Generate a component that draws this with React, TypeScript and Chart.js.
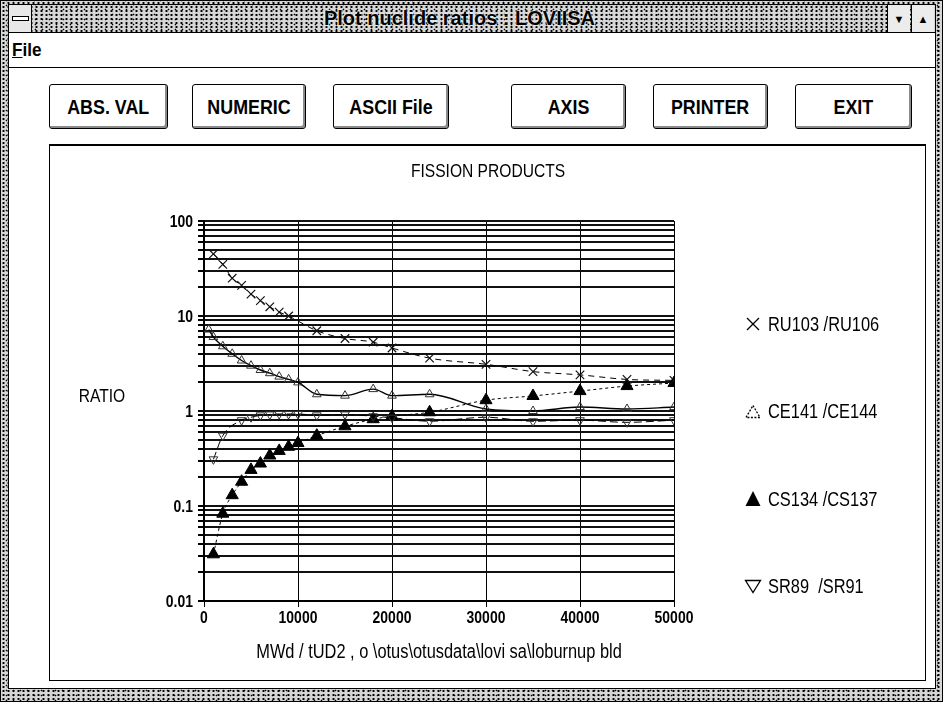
import React, { useEffect, useRef } from "react";
import { Chart, registerables } from "chart.js";

Chart.register(...registerables);

// ---------- data ----------
const RU_X = [1000, 2000, 3000, 4000, 5000, 6000, 7000, 8000, 9000, 12000, 15000, 18000, 20000, 24000, 30000, 35000, 40000, 45000, 50000];
const RU_Y = [45, 35, 25, 21, 17, 14.5, 12.5, 11, 10, 7.0, 5.8, 5.3, 4.6, 3.6, 3.1, 2.6, 2.4, 2.15, 2.1];

const CE_X = [500, 1000, 2000, 3000, 4000, 5000, 6000, 7000, 8000, 9000, 10000, 12000, 15000, 18000, 20000, 24000, 30000, 35000, 40000, 45000, 50000];
const CE_Y = [7.2, 6.0, 4.8, 4.0, 3.4, 3.0, 2.7, 2.5, 2.3, 2.15, 2.0, 1.5, 1.45, 1.7, 1.45, 1.5, 1.05, 1.0, 1.1, 1.05, 1.1];

const CS_X = [1000, 2000, 3000, 4000, 5000, 6000, 7000, 8000, 9000, 10000, 12000, 15000, 18000, 20000, 24000, 30000, 35000, 40000, 45000, 50000];
const CS_Y = [0.031, 0.083, 0.13, 0.18, 0.24, 0.28, 0.34, 0.38, 0.42, 0.46, 0.55, 0.69, 0.82, 0.88, 0.97, 1.3, 1.44, 1.62, 1.83, 1.97];

const SR_X = [1000, 2000, 4000, 5000, 6000, 7000, 8000, 9000, 10000, 12000, 15000, 18000, 20000, 24000, 30000, 35000, 40000, 45000, 50000];
const SR_Y = [0.31, 0.55, 0.8, 0.86, 0.9, 0.92, 0.93, 0.93, 0.93, 0.9, 0.92, 0.88, 0.85, 0.78, 0.86, 0.78, 0.8, 0.76, 0.8];

const SERIES_LABELS = ["RU103 /RU106", "CE141 /CE144", "CS134 /CS137", "SR89  /SR91"];

const X_TICKS = [0, 10000, 20000, 30000, 40000, 50000];
const X_TICK_LABELS = ["0", "10000", "20000", "30000", "40000", "50000"];
const Y_DECADES = [0.01, 0.1, 1, 10, 100];
const Y_DECADE_LABELS = ["0.01", "0.1", "1", "10", "100"];

const TITLE = "FISSION PRODUCTS";
const Y_TITLE = "RATIO";
const X_TITLE = "MWd / tUD2 , o \\otus\\otusdata\\lovi sa\\loburnup bld";

const WINDOW_TITLE = "Plot nuclide ratios : LOVIISA";
const MENU_ITEMS = ["File"];
const BUTTONS = ["ABS. VAL", "NUMERIC", "ASCII File", "AXIS", "PRINTER", "EXIT"];

// ---------- styles ----------
const SANS = "'Liberation Sans', Arial, sans-serif";
const NARROW_X = 0.82;
const DITHER =
  "radial-gradient(circle, #000 0.9px, transparent 1.3px) 0 0 / 5px 4px, radial-gradient(circle, #000 0.7px, transparent 1.1px) 2px 2px / 7px 5px, #d6d6d6";

const pts = (xs: number[], ys: number[]) => xs.map((x, i) => ({ x, y: ys[i] }));

// grid values for the log axis: 1..9 of every decade, plus the top decade
const yGridValues = (() => {
  const out: number[] = [];
  for (let d = 0; d < Y_DECADES.length - 1; d++) {
    for (let m = 1; m <= 9; m++) out.push(Number((Y_DECADES[d] * m).toPrecision(3)));
  }
  out.push(Y_DECADES[Y_DECADES.length - 1]);
  return out;
})();

function narrowText(
  ctx: CanvasRenderingContext2D,
  text: string,
  x: number,
  y: number,
  size: number,
  align: CanvasTextAlign,
  weight = "normal"
) {
  ctx.save();
  ctx.translate(x, y);
  ctx.scale(NARROW_X, 1);
  ctx.font = `${weight} ${size}px ${SANS}`;
  ctx.textAlign = align;
  ctx.textBaseline = "middle";
  ctx.fillStyle = "#000";
  ctx.fillText(text, 0, 0);
  ctx.restore();
}

function drawMarker(ctx: CanvasRenderingContext2D, kind: number, x: number, y: number) {
  ctx.save();
  ctx.strokeStyle = "#000";
  ctx.fillStyle = "#000";
  ctx.lineWidth = 1.3;
  ctx.beginPath();
  if (kind === 0) {
    const r = 6;
    ctx.moveTo(x - r, y - r);
    ctx.lineTo(x + r, y + r);
    ctx.moveTo(x + r, y - r);
    ctx.lineTo(x - r, y + r);
    ctx.stroke();
  } else if (kind === 1) {
    ctx.moveTo(x, y - 6);
    ctx.lineTo(x + 7, y + 6);
    ctx.lineTo(x - 7, y + 6);
    ctx.closePath();
    ctx.setLineDash([2, 1.5]);
    ctx.stroke();
  } else if (kind === 2) {
    ctx.moveTo(x, y - 8);
    ctx.lineTo(x + 7.5, y + 7);
    ctx.lineTo(x - 7.5, y + 7);
    ctx.closePath();
    ctx.fill();
  } else {
    ctx.moveTo(x - 7.5, y - 6);
    ctx.lineTo(x + 7.5, y - 6);
    ctx.lineTo(x, y + 6);
    ctx.closePath();
    ctx.stroke();
  }
  ctx.restore();
}

const decorPlugin = {
  id: "decor",
  beforeDraw(chart: any) {
    const ctx = chart.ctx as CanvasRenderingContext2D;
    ctx.save();
    ctx.fillStyle = "#fff";
    ctx.fillRect(0, 0, chart.width, chart.height);
    ctx.restore();
  },
  afterDraw(chart: any) {
    const ctx = chart.ctx as CanvasRenderingContext2D;
    const area = chart.chartArea;
    const xs = chart.scales.x;
    const ys = chart.scales.y;

    // tick labels
    X_TICKS.forEach((v, i) => {
      narrowText(ctx, X_TICK_LABELS[i], xs.getPixelForValue(v), area.bottom + 17, 17, "center", "bold");
    });
    Y_DECADES.forEach((v, i) => {
      narrowText(ctx, Y_DECADE_LABELS[i], area.left - 11, ys.getPixelForValue(v) + 1, 17, "right", "bold");
    });

    // titles
    narrowText(ctx, TITLE, 438, 26, 19, "center");
    narrowText(ctx, Y_TITLE, 52, 251, 19, "center");
    narrowText(ctx, X_TITLE, (area.left + area.right) / 2, 506, 20, "center");

    // legend
    SERIES_LABELS.forEach((label, i) => {
      const y = 178 + i * 87.5;
      drawMarker(ctx, i, 703, y);
      narrowText(ctx, label, 718, y + 1, 20, "left");
    });
  },
};

export default function App() {
  const canvasRef = useRef<HTMLCanvasElement>(null);

  useEffect(() => {
    const canvas = canvasRef.current;
    if (!canvas) return;
    const chart = new Chart(canvas, {
      type: "line",
      data: {
        datasets: [
          {
            label: SERIES_LABELS[0],
            data: pts(RU_X, RU_Y),
            borderColor: "#000",
            borderWidth: 1,
            borderDash: [6, 5],
            tension: 0.4,
            cubicInterpolationMode: "monotone",
            pointStyle: "crossRot",
            pointRadius: 6,
            pointBorderWidth: 1.2,
            pointBorderColor: "#111",
            pointBackgroundColor: "#111",
          },
          {
            label: SERIES_LABELS[1],
            data: pts(CE_X, CE_Y),
            borderColor: "#000",
            borderWidth: 1.4,
            tension: 0.4,
            cubicInterpolationMode: "monotone",
            pointStyle: "triangle",
            pointRadius: 5,
            pointBorderWidth: 1,
            pointBorderColor: "#333",
            pointBackgroundColor: "rgba(255,255,255,0)",
          },
          {
            label: SERIES_LABELS[3],
            data: pts(SR_X, SR_Y),
            borderColor: "#000",
            borderWidth: 1,
            borderDash: [8, 4],
            tension: 0.4,
            cubicInterpolationMode: "monotone",
            pointStyle: "triangle",
            pointRotation: 180,
            pointRadius: 5,
            pointBorderWidth: 1,
            pointBorderColor: "#333",
            pointBackgroundColor: "rgba(255,255,255,0)",
          },
          {
            label: SERIES_LABELS[2],
            data: pts(CS_X, CS_Y),
            borderColor: "#000",
            borderWidth: 1,
            borderDash: [3, 3],
            tension: 0.4,
            cubicInterpolationMode: "monotone",
            pointStyle: "triangle",
            pointRadius: 7,
            pointBorderWidth: 1,
            pointBorderColor: "#000",
            pointBackgroundColor: "#000",
          },
        ],
      },
      options: {
        responsive: false,
        animation: false,
        devicePixelRatio: 1,
        layout: { padding: { top: 75, right: 251, left: 0, bottom: 0 } },
        plugins: {
          legend: { display: false },
          title: { display: false },
          tooltip: { enabled: false },
        },
        scales: {
          x: {
            type: "linear",
            min: X_TICKS[0],
            max: X_TICKS[X_TICKS.length - 1],
            afterFit: (scale: any) => {
              scale.height = 78;
            },
            afterBuildTicks: (scale: any) => {
              scale.ticks = X_TICKS.map((value) => ({ value }));
            },
            ticks: { display: false },
            grid: {
              color: "#000",
              lineWidth: 1,
              tickLength: 6,
              tickColor: "#000",
            },
            border: { display: true, color: "#000", width: 2 },
          },
          y: {
            type: "logarithmic",
            min: Y_DECADES[0],
            max: Y_DECADES[Y_DECADES.length - 1],
            afterFit: (scale: any) => {
              scale.width = 154;
            },
            afterBuildTicks: (scale: any) => {
              scale.ticks = yGridValues.map((value) => ({ value }));
            },
            ticks: { display: false, autoSkip: false },
            grid: {
              color: "#111",
              lineWidth: 2,
              tickLength: 6,
              tickColor: "#000",
            },
            border: { display: true, color: "#000", width: 2 },
          },
        },
      },
      plugins: [decorPlugin],
    } as any);
    return () => chart.destroy();
  }, []);

  const btnPos = [
    [48, 167],
    [191, 305],
    [332, 448],
    [510, 625],
    [652, 767],
    [794, 911],
  ];

  const narrowSpan = (text: string) => (
    <span style={{ display: "inline-block", transform: `scaleX(${NARROW_X + 0.03})`, whiteSpace: "pre" }}>{text}</span>
  );

  return (
    <div
      style={{
        position: "absolute",
        left: 0,
        top: 0,
        width: 943,
        height: 702,
        boxSizing: "border-box",
        border: "1px solid #000",
        background: DITHER,
        overflow: "hidden",
        fontFamily: SANS,
      }}
    >
      {/* client area */}
      <div
        style={{
          position: "absolute",
          left: 7,
          top: 3,
          width: 928,
          height: 685,
          boxSizing: "border-box",
          border: "1px solid #000",
          background: "#fff",
        }}
      />
      {/* title bar */}
      <div
        style={{
          position: "absolute",
          left: 7,
          top: 3,
          width: 928,
          height: 29,
          boxSizing: "border-box",
          border: "1px solid #000",
          background: DITHER,
        }}
      />
      {/* control box */}
      <div
        style={{
          position: "absolute",
          left: 8,
          top: 4,
          width: 22,
          height: 27,
          background: "#e8e8e8",
          borderRight: "1px solid #000",
        }}
      >
        <div
          style={{
            position: "absolute",
            left: 3,
            top: 11,
            width: 15,
            height: 3,
            border: "1px solid #000",
            background: "#fff",
          }}
        />
      </div>
      {/* min / max boxes */}
      {["\u25BC", "\u25B2"].map((g, i) => (
        <div
          key={g}
          style={{
            position: "absolute",
            left: 886 + i * 24,
            top: 4,
            width: 23,
            height: 27,
            boxSizing: "border-box",
            borderLeft: "1px solid #000",
            background: "#ececec",
            display: "flex",
            alignItems: "center",
            justifyContent: "center",
            fontSize: 11,
            color: "#000",
          }}
        >
          {g}
        </div>
      ))}
      {/* window title */}
      <div
        style={{
          position: "absolute",
          left: 31,
          top: 4,
          width: 855,
          height: 27,
          display: "flex",
          alignItems: "center",
          justifyContent: "center",
          fontWeight: "bold",
          fontSize: 20,
          color: "#000",
          textShadow: "0 0 2px #fff, 0 0 2px #fff",
        }}
      >
        <span style={{ whiteSpace: "pre" }}>{WINDOW_TITLE}</span>
      </div>
      {/* menu bar */}
      <div
        style={{
          position: "absolute",
          left: 8,
          top: 32,
          width: 926,
          height: 34,
          borderBottom: "1px solid #000",
          display: "flex",
          alignItems: "center",
          fontSize: 19,
          fontWeight: "bold",
          color: "#000",
        }}
      >
        {MENU_ITEMS.map((m) => (
          <span key={m} style={{ marginLeft: 3, display: "inline-block", transform: "scaleX(0.9)", transformOrigin: "left center" }}>
            <span style={{ textDecoration: "underline" }}>{m[0]}</span>
            {m.slice(1)}
          </span>
        ))}
      </div>
      {/* buttons */}
      {BUTTONS.map((b, i) => (
        <div
          key={b}
          style={{
            position: "absolute",
            left: btnPos[i][0],
            top: 83,
            width: btnPos[i][1] - btnPos[i][0],
            height: 45,
            boxSizing: "border-box",
            border: "1px solid #000",
            borderRadius: 3,
            boxShadow: "inset -2px -2px 0 #8a8a8a, inset 2px 2px 0 #fff",
            background: "#fff",
            display: "flex",
            alignItems: "center",
            justifyContent: "center",
            fontWeight: "bold",
            fontSize: 21,
            color: "#000",
          }}
        >
          {narrowSpan(b)}
        </div>
      ))}
      {/* chart panel */}
      <div
        style={{
          position: "absolute",
          left: 48,
          top: 143,
          width: 877,
          height: 537,
          boxSizing: "border-box",
          border: "1px solid #000",
          borderTopWidth: 2,
          background: "#fff",
        }}
      />
      <canvas
        ref={canvasRef}
        width={875}
        height={533}
        style={{ position: "absolute", left: 49, top: 145, width: 875, height: 533 }}
      />
    </div>
  );
}
